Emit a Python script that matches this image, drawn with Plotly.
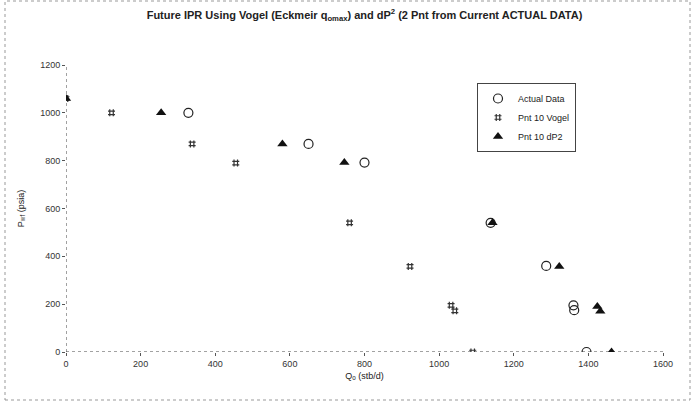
import plotly.graph_objects as go

# Data
actual_q = [328, 650, 800, 1138, 1287, 1360, 1362, 1395]
actual_p = [1000, 870, 792, 540, 360, 195, 175, 0]

vogel_q = [0, 122, 338, 455, 760, 922, 1032, 1042, 1090]
vogel_p = [1060, 1000, 870, 790, 540, 358, 195, 172, 0]

dp2_q = [0, 255, 580, 746, 1143, 1322, 1424, 1432, 1462]
dp2_p = [1060, 1000, 870, 792, 540, 358, 190, 170, 0]

x_ticks = [0, 200, 400, 600, 800, 1000, 1200, 1400, 1600]
y_ticks = [0, 200, 400, 600, 800, 1000, 1200]

fig = go.Figure()
fig.add_trace(go.Scatter(x=actual_q, y=actual_p, mode="markers", name="Actual Data",
                         marker=dict(symbol="circle-open", size=9, color="#222",
                                     line=dict(width=1.2, color="#222"))))
fig.add_trace(go.Scatter(x=vogel_q, y=vogel_p, mode="markers", name="Pnt 10 Vogel",
                         marker=dict(symbol="hash-open", size=7, color="#333",
                                     line=dict(width=1.2, color="#333"))))
fig.add_trace(go.Scatter(x=dp2_q, y=dp2_p, mode="markers", name="Pnt 10 dP2",
                         marker=dict(symbol="triangle-up", size=9, color="#111")))

font = "Liberation Sans, Arial, sans-serif"
fig.update_layout(
    width=692, height=404,
    margin=dict(l=66, r=29, t=65, b=52),
    paper_bgcolor="white", plot_bgcolor="white",
    font=dict(family=font, size=9, color="#333"),
    title=dict(text="<b>Future IPR Using Vogel (Eckmeir q<sub>omax</sub>) and dP<sup>2</sup> (2 Pnt from Current ACTUAL DATA)</b>",
               x=0.5, xref="paper", y=1 - 15/404, yanchor="middle",
               font=dict(family=font, size=11, color="#222")),
    showlegend=True,
    legend=dict(x=(477-66)/597, y=1 - (83-65)/287, xanchor="left", yanchor="top",
                bordercolor="#444", borderwidth=1, bgcolor="white",
                font=dict(family=font, size=9, color="#222"),
                itemsizing="trace", itemwidth=30, tracegroupgap=0),
    xaxis=dict(range=[0, 1600], tickvals=x_ticks, showgrid=False, zeroline=False,
               showline=False, ticks="outside", ticklen=3, tickcolor="#555",
               title=dict(text="Q<sub>o</sub> (stb/d)", standoff=4,
                          font=dict(family=font, size=9, color="#222"))),
    yaxis=dict(range=[0, 1200], tickvals=y_ticks, showgrid=False, zeroline=False,
               showline=False, ticks="outside", ticklen=3, tickcolor="#555",
               title=dict(text="P<sub>wf</sub> (psia)", standoff=14,
                          font=dict(family=font, size=9, color="#222"))),
)

# dotted axis lines
fig.add_shape(type="line", xref="x", yref="y", x0=0, x1=1600, y0=0, y1=0,
              line=dict(color="#444", width=1, dash="dot"), layer="below")
fig.add_shape(type="line", xref="x", yref="y", x0=0, x1=0, y0=0, y1=1200,
              line=dict(color="#444", width=1, dash="dot"), layer="below")
# chart frame (dotted outline of the original chart area)
fig.add_shape(type="rect", xref="paper", yref="paper",
              x0=-61/597, x1=1 + 27/597, y0=-48/287, y1=1 + 64/287,
              line=dict(color="#999", width=1, dash="dot"))

fig.write_html("out.html")
